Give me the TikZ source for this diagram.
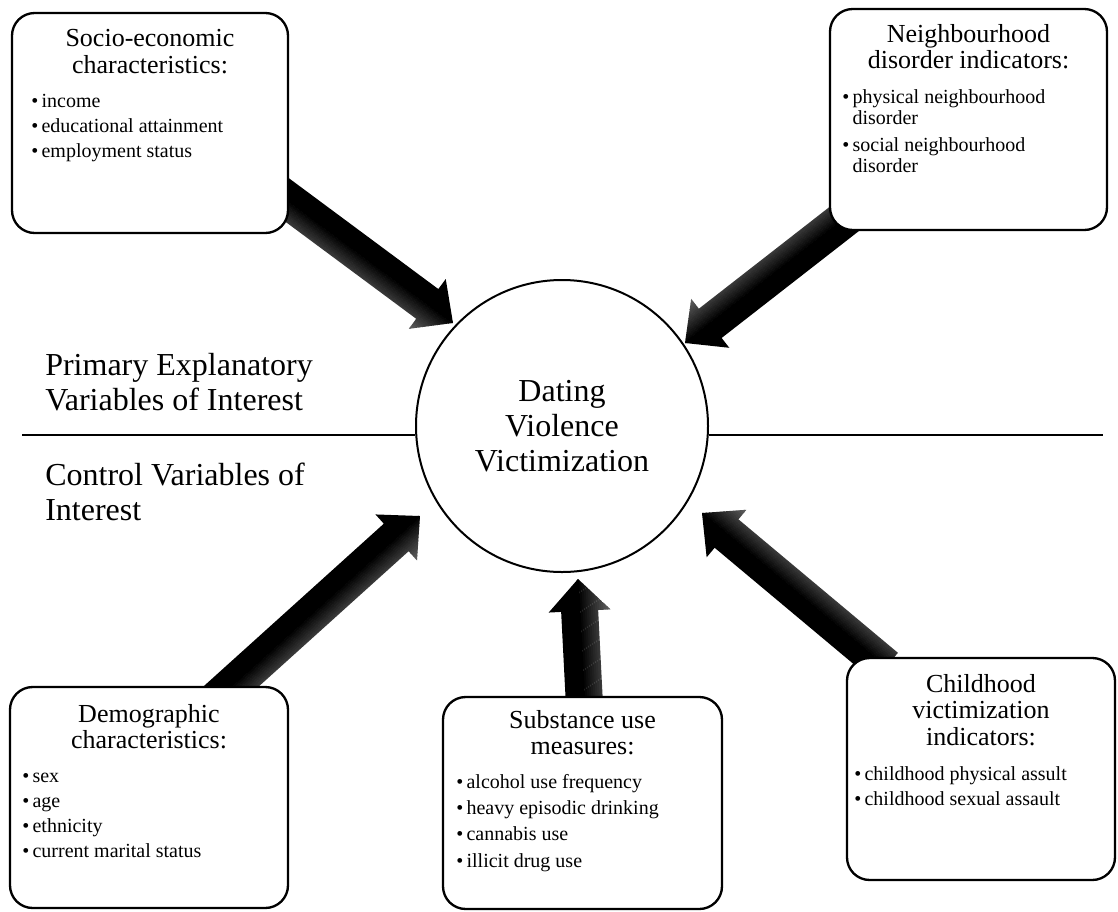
\documentclass[tikz,border=0pt]{standalone}
\usepackage{fontspec}
\setmainfont{Liberation Serif}
\usetikzlibrary{calc}
\tikzset{
  px/.style={x=0.75pt,y=-0.75pt},
  vbox/.style={draw, line width=1.75pt, rounded corners=17pt, fill=white, inner sep=0pt},
  ttl/.style={font=\fontsize{19.5}{19.9}\selectfont, align=center, inner sep=0pt, anchor=north},
  itm/.style={font=\fontsize{15}{16.1}\selectfont, align=left, inner sep=0pt, anchor=north west},
  big/.style={font=\fontsize{24}{26.25}\selectfont, align=left, inner sep=0pt, anchor=north west},
  outcome/.style={circle, draw, line width=1.5pt, fill=white, minimum size=219pt, inner sep=0pt,
    font=\fontsize{24}{26.25}\selectfont, align=center},
  divider/.style={line width=2.2pt},
}
\newcommand\bul{\makebox{\textbullet}\hspace{2.5pt}}
\newcommand\nob{\phantom{\textbullet}\hspace{2.5pt}}
\newcommand\itmstrut{\rule{0pt}{10.5pt}}
\newcommand\blockarrow[2]{%
  \path let \p1=(#1), \p2=(#2) in \pgfextra{%
    \pgfmathsetmacro\baTmpA{atan2(\y2-\y1,\x2-\x1)}%
    \pgfmathsetmacro\baTmpL{veclen(\x2-\x1,\y2-\y1)}%
    \xdef\baAng{\baTmpA}\xdef\baLen{\baTmpL}\xdef\baX{\x1}\xdef\baY{\y1}};
  \begin{scope}[transform canvas={shift={(\baX,\baY)},rotate=\baAng}]
    \clip (0pt,13.9pt) -- ({\baLen pt-24pt},13.9pt) -- ({\baLen pt-24pt},23.25pt)
      -- (\baLen pt,0pt) -- ({\baLen pt-24pt},-23.25pt) -- ({\baLen pt-24pt},-13.9pt)
      -- (0pt,-13.9pt) -- cycle;
    \fill[black] (-1pt,0pt) rectangle ({\baLen pt+1pt},24pt);
    \foreach \k in {0,...,15}{%
      \pgfmathsetmacro\baShade{62+\k*38/15}%
      \fill[black!\baShade] (-1pt,{-24pt+\k*1.55pt}) rectangle ({\baLen pt+1pt},{-24pt+(\k+1)*1.55pt+0.3pt});
    }
  \end{scope}}
\begin{document}
\begin{tikzpicture}[px]
\useasboundingbox (0,0) rectangle (1118,911);
% arrow ends
\coordinate (socT) at (240,165);   \coordinate (socH) at (453,323);
\coordinate (nbhT) at (866,202);   \coordinate (nbhH) at (685,343);
\coordinate (demT) at (205,710);   \coordinate (demH) at (420,516);
\coordinate (subT) at (585,715);   \coordinate (subH) at (578,579);
\coordinate (chiT) at (886,667);   \coordinate (chiH) at (702,513);
\blockarrow{socT}{socH}
\blockarrow{nbhT}{nbhH}
\blockarrow{demT}{demH}
\blockarrow{subT}{subH}
\blockarrow{chiT}{chiH}
% central outcome
\node[outcome] (dvv) at (562,426) {Dating\\Violence\\Victimization};
\coordinate (ll) at (22,435);
\coordinate (rr) at (1103,435);
\draw[divider] (ll) -- (ll -| dvv.west);
\draw[divider] (rr -| dvv.east) -- (rr);
\node[big] (prim) at (45,353) {Primary Explanatory\\Variables of Interest};
\node[big] (ctrl) at (45,463) {Control Variables of\\Interest};
% boxes
\node[vbox, minimum width=207pt, minimum height=165pt] (soc) at (150,123) {};
\node[ttl] (socttl) at (150,29) {Socio-economic\\characteristics:};
\node[itm] (socitm) at (31,93) {\itmstrut\bul income\\[2.6pt]\bul educational attainment\\[2.6pt]\bul employment status};

\node[vbox, minimum width=207.75pt, minimum height=165.75pt] (nbh) at (968.5,119.5) {};
\node[ttl] (nbhttl) at (968.5,24) {Neighbourhood\\disorder indicators:};
\node[itm] (nbhitm) at (842,89) {\itmstrut\bul physical neighbourhood\\\nob disorder\\[3.7pt]\bul social neighbourhood\\\nob disorder};

\node[vbox, minimum width=208.5pt, minimum height=165.75pt] (dem) at (149,797.5) {};
\node[ttl] (demttl) at (149,704) {Demographic\\characteristics:};
\node[itm] (demitm) at (22,768) {\itmstrut\bul sex\\[2.6pt]\bul age\\[2.6pt]\bul ethnicity\\[2.6pt]\bul current marital status};

\node[vbox, minimum width=209.25pt, minimum height=159pt] (sub) at (582.5,803) {};
\node[ttl] (subttl) at (582.5,710) {Substance use\\measures:};
\node[itm] (subitm) at (456,774) {\itmstrut\bul alcohol use frequency\\[3.6pt]\bul heavy episodic drinking\\[3.6pt]\bul cannabis use\\[3.6pt]\bul illicit drug use};

\node[vbox, minimum width=201pt, minimum height=166.5pt] (chi) at (981,769) {};
\node[ttl] (chittl) at (981,674) {Childhood\\victimization\\indicators:};
\node[itm] (chiitm) at (854,766) {\itmstrut\bul childhood physical assult\\[2.6pt]\bul childhood sexual assault};
\end{tikzpicture}
\end{document}
